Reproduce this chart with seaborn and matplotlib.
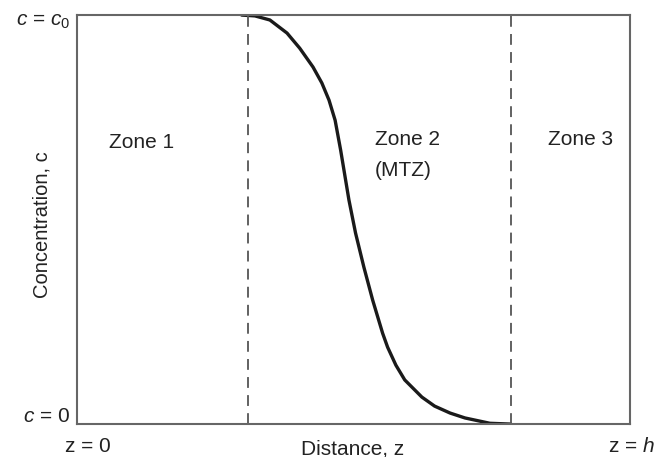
import numpy as np
import pandas as pd
import seaborn as sns
import matplotlib.pyplot as plt

# breakthrough profile, z/h vs c/c0
z_frac = [0.298, 0.322, 0.349, 0.380, 0.403, 0.427, 0.443, 0.456, 0.467, 0.477,
          0.492, 0.504, 0.519, 0.535, 0.553, 0.562, 0.577, 0.593, 0.624, 0.647,
          0.675, 0.702, 0.747, 0.785]
c_frac = [1.000, 0.998, 0.988, 0.956, 0.919, 0.873, 0.834, 0.792, 0.743, 0.670,
          0.548, 0.467, 0.384, 0.303, 0.222, 0.188, 0.144, 0.108, 0.066, 0.044,
          0.027, 0.015, 0.002, 0.000]
zone_bounds = [0.309, 0.785]

sns.set_theme(style="white")
plt.rcParams['font.family'] = ['Liberation Sans', 'DejaVu Sans']
plt.rcParams['mathtext.fontset'] = 'custom'
plt.rcParams['mathtext.rm'] = 'Liberation Sans'
plt.rcParams['mathtext.it'] = 'Liberation Sans:italic'

fig = plt.figure(figsize=(6.58, 4.57), dpi=100)
ax = fig.add_axes([0.117, 0.072, 0.840, 0.895])

df = pd.DataFrame({"z": z_frac, "c": c_frac})
sns.lineplot(data=df, x="z", y="c", ax=ax, color="#1a1a1a", linewidth=2.4, sort=False)

for b in zone_bounds:
    ax.axvline(b, color="#555555", linestyle=(0, (6, 4)), linewidth=1.3)

ax.set_xlim(0, 1)
ax.set_ylim(0, 1)
ax.set_xticks([])
ax.set_yticks([])
ax.set_xlabel("")
ax.set_ylabel("")
for s in ax.spines.values():
    s.set_color("#666666")
    s.set_linewidth(1.5)

tc = "#222222"
fs = 15
ax.text(0.058, 0.675, "Zone 1", fontsize=fs, color=tc, va="baseline", transform=ax.transAxes)
ax.text(0.539, 0.682, "Zone 2", fontsize=fs, color=tc, va="baseline", transform=ax.transAxes)
ax.text(0.539, 0.606, "(MTZ)", fontsize=fs, color=tc, va="baseline", transform=ax.transAxes)
ax.text(0.853, 0.682, "Zone 3", fontsize=fs, color=tc, va="baseline", transform=ax.transAxes)

fig.text(70/658, 1 - 22/457, r"$c$ = $c_0$", fontsize=fs, color=tc, ha="right", va="center")
fig.text(70/658, 1 - 417/457, r"$c$ = 0", fontsize=fs, color=tc, ha="right", va="center")
fig.text(88/658, 1 - 447/457, "z = 0", fontsize=fs, color=tc, ha="center", va="center")
fig.text(353/658, 1 - 449/457, "Distance, z", fontsize=fs, color=tc, ha="center", va="center")
fig.text(655/658, 1 - 447/457, r"z = $h$", fontsize=fs, color=tc, ha="right", va="center")
fig.text(42/658, 1 - 225/457, "Concentration, c", fontsize=14.5, color=tc,
         ha="center", va="center", rotation=90)

fig.savefig("out.png", dpi=100, facecolor="white")
